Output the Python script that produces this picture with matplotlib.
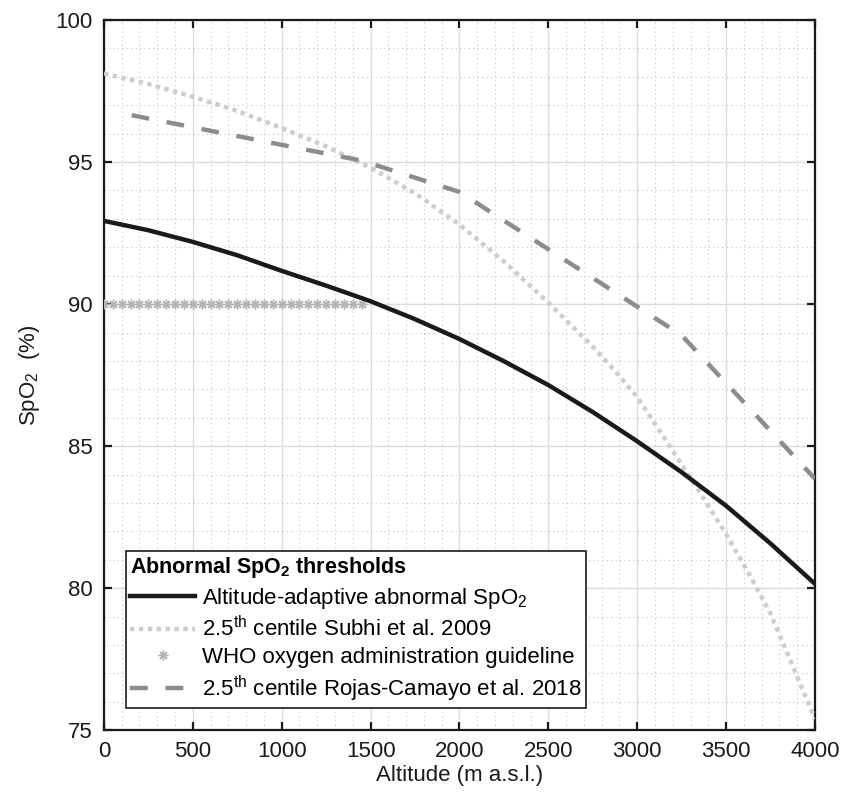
import matplotlib
matplotlib.use("Agg")
import matplotlib.pyplot as plt
from matplotlib.ticker import MultipleLocator

plt.rcParams['font.family'] = ['Liberation Sans', 'DejaVu Sans']
plt.rcParams['mathtext.fontset'] = 'custom'
plt.rcParams['mathtext.rm'] = 'Liberation Sans'
plt.rcParams['mathtext.bf'] = 'Liberation Sans:bold'
plt.rcParams['mathtext.it'] = 'Liberation Sans:italic'

# altitude-adaptive abnormal SpO2
alt_adaptive = [0, 250, 500, 750, 1000, 1250, 1500, 1750, 2000, 2250, 2500,
                2750, 3000, 3250, 3500, 3750, 4000]
spo2_adaptive = [92.93, 92.6, 92.19, 91.72, 91.17, 90.65, 90.1, 89.47, 88.77,
                 87.99, 87.15, 86.2, 85.17, 84.08, 82.9, 81.57, 80.15]

# 2.5th centile Subhi et al. 2009
alt_subhi = [0, 250, 500, 750, 1000, 1250, 1500, 1750, 2000, 2250, 2500,
             2750, 2875, 3000, 3125, 3250, 3375, 3500, 3625, 3750, 3875, 4000]
spo2_subhi = [98.12, 97.75, 97.3, 96.8, 96.2, 95.55, 94.8, 93.9, 92.8, 91.5,
              90.05, 88.5, 87.65, 86.72, 85.55, 84.35, 83.15, 81.9, 80.55,
              79.1, 77.25, 75.4]

# WHO oxygen administration guideline
alt_who = list(range(0, 1451, 50))
spo2_who = [90] * len(alt_who)

# 2.5th centile Rojas-Camayo et al. 2018
alt_rojas = [156, 1450, 2000, 3250, 4000]
spo2_rojas = [96.65, 95.05, 93.95, 88.9, 83.85]

fig = plt.figure(figsize=(8.52, 7.92), dpi=100)
ax = fig.add_axes([0.122, 0.078, 0.8346, 0.8967])

ax.plot(alt_adaptive, spo2_adaptive, color='#1a1a1a', lw=3.2,
        label='Altitude-adaptive abnormal SpO$_2$', zorder=5)
ax.plot(alt_subhi, spo2_subhi, color='#cdcdcd', lw=3.2, ls=(0, (1, 1)),
        label='2.5$^{\\mathrm{th}}$ centile Subhi et al. 2009', zorder=3)
ax.plot(alt_who, spo2_who, ls='none', marker=(8, 2, 0), ms=7, mew=1.0,
        color='#b4b4b4', label='WHO oxygen administration guideline', zorder=4)
ax.plot(alt_rojas, spo2_rojas, color='#8c8c8c', lw=3.2, ls=(0, (4, 4)),
        dash_capstyle='butt', solid_joinstyle='miter',
        label='2.5$^{\\mathrm{th}}$ centile Rojas-Camayo et al. 2018', zorder=4)

ax.set_xlim(0, 4000)
ax.set_ylim(75, 100)
ax.xaxis.set_major_locator(MultipleLocator(500))
ax.xaxis.set_minor_locator(MultipleLocator(100))
ax.yaxis.set_major_locator(MultipleLocator(5))
ax.yaxis.set_minor_locator(MultipleLocator(1))

ax.set_axisbelow(True)
ax.grid(which='major', color='#dcdcdc', lw=1.0, ls='-')
ax.grid(which='minor', color='#c4c4c4', lw=0.8, ls=(0, (1, 3)))

ax.tick_params(which='major', direction='in', length=6, width=1.6,
               top=True, right=True, labelsize=16, pad=8, colors='#1a1a1a')
ax.tick_params(which='minor', length=0, top=True, right=True)
for s in ax.spines.values():
    s.set_linewidth(1.6)
    s.set_color('#1a1a1a')

ax.set_xlabel('Altitude (m a.s.l.)', fontsize=16, labelpad=2, color='#1a1a1a')
ax.set_ylabel('SpO$_2$  (%)', fontsize=16, labelpad=10, color='#1a1a1a')

leg = ax.legend(loc='lower left', bbox_to_anchor=(0.031, 0.031),
                borderaxespad=0, fontsize=16, handlelength=2.9,
                handletextpad=0.3, labelspacing=0.25, borderpad=0.2,
                fancybox=False, framealpha=1, edgecolor='#1a1a1a',
                title='Abnormal SpO$_\\mathbf{2}$ thresholds',
                title_fontproperties={'weight': 'bold', 'size': 15.5},
                alignment='left')
leg.get_frame().set_linewidth(1.2)

fig.savefig('out.png', dpi=100)
